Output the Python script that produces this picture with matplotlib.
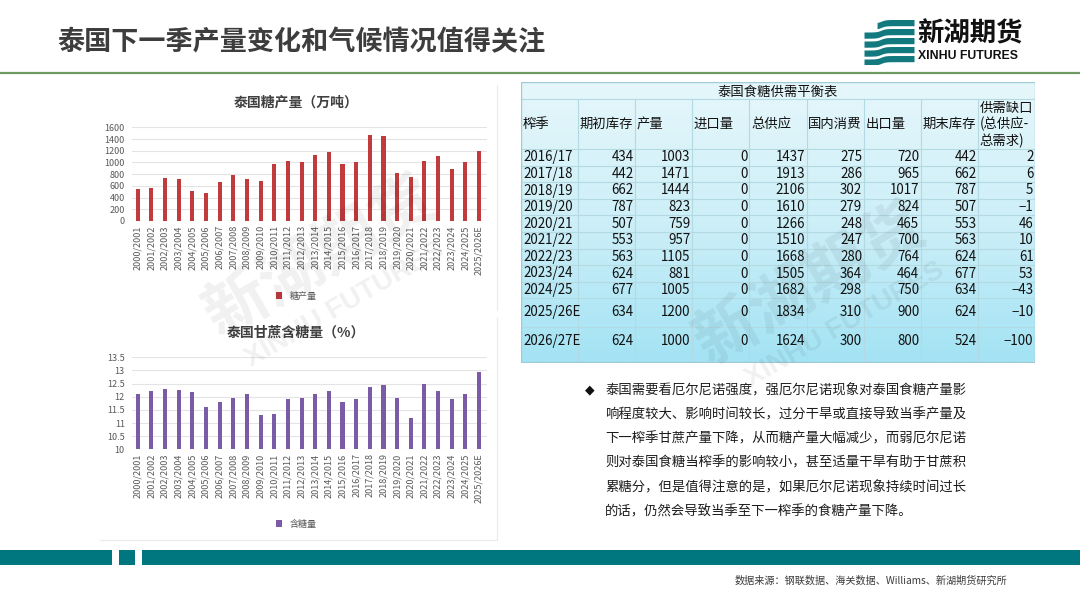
import numpy as np
import matplotlib
matplotlib.use("Agg")
import matplotlib.pyplot as plt
from matplotlib.patches import Rectangle
from matplotlib.colors import LinearSegmentedColormap

plt.rcParams['font.family'] = ['Noto Sans CJK SC', 'DejaVu Sans']

# ---------------- data ----------------
seasons = ['2000/2001', '2001/2002', '2002/2003', '2003/2004', '2004/2005', '2005/2006',
           '2006/2007', '2007/2008', '2008/2009', '2009/2010', '2010/2011', '2011/2012',
           '2012/2013', '2013/2014', '2014/2015', '2015/2016', '2016/2017', '2017/2018',
           '2018/2019', '2019/2020', '2020/2021', '2021/2022', '2022/2023', '2023/2024',
           '2024/2025', '2025/2026E']
sugar_output = [540, 570, 730, 710, 510, 480, 670, 780, 710, 690, 970, 1020, 1000, 1130,
                1170, 970, 1003, 1471, 1444, 823, 759, 1020, 1105, 881, 1005, 1200]
sugar_content = [12.1, 12.2, 12.3, 12.25, 12.17, 11.6, 11.8, 11.95, 12.1, 11.3, 11.35, 11.9,
                 11.95, 12.1, 12.2, 11.8, 11.9, 12.37, 12.45, 11.95, 11.2, 12.5, 12.23, 11.9,
                 12.1, 12.95]
output_ticks = [0, 200, 400, 600, 800, 1000, 1200, 1400, 1600]
content_ticks = [10, 10.5, 11, 11.5, 12, 12.5, 13, 13.5]
content_tick_labels = ['10', '10.5', '11', '11.5', '12', '12.5', '13', '13.5']

table_title = '泰国食糖供需平衡表'
table_header = ['榨季', '期初库存', '产量', '进口量', '总供应', '国内消费', '出口量', '期末库存',
                '供需缺口\n(总供应-\n总需求)']
table_seasons = ['2016/17', '2017/18', '2018/19', '2019/20', '2020/21', '2021/22', '2022/23',
                 '2023/24', '2024/25', '2025/26E', '2026/27E']
opening_stock = [434, 442, 662, 787, 507, 553, 563, 624, 677, 634, 624]
production = [1003, 1471, 1444, 823, 759, 957, 1105, 881, 1005, 1200, 1000]
imports = [0, 0, 0, 0, 0, 0, 0, 0, 0, 0, 0]
total_supply = [1437, 1913, 2106, 1610, 1266, 1510, 1668, 1505, 1682, 1834, 1624]
domestic_use = [275, 286, 302, 279, 248, 247, 280, 364, 298, 310, 300]
exports = [720, 965, 1017, 824, 465, 700, 764, 464, 750, 900, 800]
ending_stock = [442, 662, 787, 507, 553, 563, 624, 677, 634, 624, 524]
balance_gap = [2, 6, 5, -1, 46, 10, 61, 53, -43, -10, -100]

slide_title = '泰国下一季产量变化和气候情况值得关注'
chart1_title = '泰国糖产量（万吨）'
chart2_title = '泰国甘蔗含糖量（%）'
comment_lines = ['泰国需要看厄尔尼诺强度，强厄尔尼诺现象对泰国食糖产量影',
                 '响程度较大、影响时间较长，过分干旱或直接导致当季产量及',
                 '下一榨季甘蔗产量下降，从而糖产量大幅减少，而弱厄尔尼诺',
                 '则对泰国食糖当榨季的影响较小，甚至适量干旱有助于甘蔗积',
                 '累糖分，但是值得注意的是，如果厄尔尼诺现象持续时间过长',
                 '的话，仍然会导致当季至下一榨季的食糖产量下降。']
source_text = '数据来源：钢联数据、海关数据、Williams、新湖期货研究所'

# ---------------- helpers ----------------
W, H = 1080, 608
fig = plt.figure(figsize=(W / 100, H / 100), dpi=100, facecolor='white')


def fx(x):
    return x / W


def fy(y):
    return 1 - y / H


def ax_px(x0, y0, x1, y1):
    return fig.add_axes([fx(x0), fy(y1), (x1 - x0) / W, (y1 - y0) / H])


# ---------------- header ----------------
fig.text(fx(57), fy(42), slide_title, fontsize=19.5, fontweight='bold', color='#3d3d3d',
         ha='left', va='center')
fig.add_artist(plt.Line2D([0, 1], [fy(72.5), fy(72.5)], transform=fig.transFigure,
                          color='#6e9a62', lw=1.6))

# logo icon
ax_logo = ax_px(864, 18, 914, 64)
ax_logo.set_xlim(0, 50)
ax_logo.set_ylim(46, 0)
ax_logo.axis('off')
xs = np.linspace(0, 50, 200)
step = 3.5 / (1 + np.exp(-(xs - 17) / 2.2))
for i, base in enumerate([6, 15, 24, 33, 42]):
    top = base - step
    mask = xs >= (13 if i == 0 else 0)
    ax_logo.fill_between(xs[mask], top[mask] - 1.0, top[mask] + 5.2, color='#12797f', lw=0)
fig.text(fx(917), fy(34), '新湖期货', fontsize=19, fontweight='bold', color='#111111',
         ha='left', va='center')
fig.text(fx(918), fy(56), 'XINHU FUTURES', fontsize=8.8, fontweight='bold', color='#111111',
         ha='left', va='center', family=['Liberation Sans', 'DejaVu Sans'])

# ---------------- left charts ----------------
x = np.arange(len(seasons))


def style_bar_axes(ax):
    for s in ax.spines.values():
        s.set_visible(False)
    ax.yaxis.grid(True, color='#e4e4e4', lw=0.8)
    ax.set_axisbelow(True)
    ax.tick_params(length=0, labelsize=6.5, labelcolor='#595959')
    ax.tick_params(axis='y', pad=5)
    ax.tick_params(axis='x', pad=3)
    ax.set_xticks(x)
    ax.set_xticklabels(seasons, rotation=90)
    ax.set_xlim(-0.44, len(seasons) - 0.44)


ax1 = ax_px(131.7, 127.3, 486.7, 221)
ax1.bar(x, sugar_output, width=0.3, color='#c13b3d', label='糖产量', zorder=3)
ax1.set_ylim(0, 1600)
ax1.set_yticks(output_ticks)
style_bar_axes(ax1)
fig.text(fx(296), fy(103), chart1_title, fontsize=10, fontweight='bold', color='#404040',
         ha='center', va='center')
ax1.legend(loc='center', bbox_to_anchor=(fx(296), fy(296)), bbox_transform=fig.transFigure,
           frameon=False, fontsize=6.5, handlelength=0.7, handleheight=0.7,
           labelcolor='#595959')

ax2 = ax_px(131.7, 357.3, 486.7, 449.3)
ax2.bar(x, sugar_content, width=0.3, color='#7b5ba6', label='含糖量', zorder=3)
ax2.set_ylim(10, 13.5)
ax2.set_yticks(content_ticks)
ax2.set_yticklabels(content_tick_labels)
style_bar_axes(ax2)
fig.text(fx(296), fy(333), chart2_title, fontsize=10, fontweight='bold', color='#404040',
         ha='center', va='center')
ax2.legend(loc='center', bbox_to_anchor=(fx(296), fy(524)), bbox_transform=fig.transFigure,
           frameon=False, fontsize=6.5, handlelength=0.7, handleheight=0.7,
           labelcolor='#595959')

# faint panel borders
for (xa, ya, xb, yb) in [(497, 85, 497, 310), (497, 318, 497, 540), (100, 540, 497, 540)]:
    fig.add_artist(plt.Line2D([fx(xa), fx(xb)], [fy(ya), fy(yb)], transform=fig.transFigure,
                              color='#ebebeb', lw=0.8))

# ---------------- table ----------------
TW, TH = 514, 280.5
axt = ax_px(521, 82, 521 + TW, 82 + TH)
axt.set_xlim(0, TW)
axt.set_ylim(TH, 0)
axt.axis('off')
cmap = LinearSegmentedColormap.from_list('cy', ['#e6f7fb', '#cdeff8', '#a3e3f4'])
axt.imshow(np.linspace(0, 1, 256).reshape(-1, 1), cmap=cmap, aspect='auto',
           extent=(0, TW, TH, 0), zorder=0)
ncol = 9
cw = TW / ncol
row_edges = [0, 16.5, 67] + [67 + 16.6 * (i + 1) for i in range(9)] + [244.5, TH]
grid_c = '#b3d9e3'
for ye in row_edges[1:-1]:
    axt.plot([0, TW], [ye, ye], color=grid_c, lw=0.8, zorder=1)
for j in range(1, ncol):
    axt.plot([j * cw, j * cw], [16.5, TH], color=grid_c, lw=0.8, zorder=1)
axt.add_patch(Rectangle((0, 0), TW, TH, fill=False, ec='#9fcbd6', lw=1.0, zorder=2))

tfont = 9.6
axt.text(TW / 2, 9.5, table_title, ha='center', va='center', fontsize=tfont, color='#111111')
for j, h in enumerate(table_header):
    if j == ncol - 1:
        axt.text(j * cw + 1.5, 42.5, h, ha='left', va='center', fontsize=tfont, color='#111111',
                 linespacing=1.2)
    else:
        axt.text(j * cw + 1.5, 42, h, ha='left', va='center', fontsize=tfont, color='#111111')

columns = [opening_stock, production, imports, total_supply, domestic_use, exports,
           ending_stock, balance_gap]
for i, season in enumerate(table_seasons):
    yc = (row_edges[i + 2] + row_edges[i + 3]) / 2
    if i == len(table_seasons) - 1:
        yc -= 3
    axt.text(2, yc, season, ha='left', va='center', fontsize=tfont, color='#111111')
    for j, col in enumerate(columns):
        axt.text((j + 2) * cw - 1.5, yc, str(col[i]).replace('-', '−'), ha='right',
                 va='center', fontsize=tfont, color='#111111')

# ---------------- comment text ----------------
fig.text(fx(590), fy(390), '◆', fontsize=9, color='#111111', ha='center', va='center',
         family=['DejaVu Sans'])
for k, line in enumerate(comment_lines):
    fig.text(fx(605), fy(390 + 24.3 * k), line, fontsize=9.6, color='#1c1c1c', ha='left',
             va='center')

# ---------------- watermarks ----------------
for (cx, cy, cx2, cy2) in [(320, 258, 345, 305), (810, 285, 845, 325)]:
    fig.text(fx(cx), fy(cy), '新湖期货', fontsize=46, fontweight='bold', color='#000000',
             alpha=0.06, rotation=30, ha='center', va='center')
    fig.text(fx(cx2), fy(cy2), 'XINHU FUTURES', fontsize=20, fontweight='bold',
             color='#000000', alpha=0.06, rotation=30, ha='center', va='center',
             family=['Liberation Sans', 'DejaVu Sans'])

# ---------------- footer ----------------
for (xa, xb) in [(0, 111.5), (118.5, 134.5), (141.5, 1080)]:
    fig.add_artist(Rectangle((fx(xa), fy(564.5)), (xb - xa) / W, 15 / H,
                             transform=fig.transFigure, color='#00767e', lw=0))
fig.text(fx(1007), fy(581), source_text, fontsize=7.3, color='#3a3a3a', ha='right',
         va='center')

fig.savefig('out.png', dpi=100, facecolor='white')
